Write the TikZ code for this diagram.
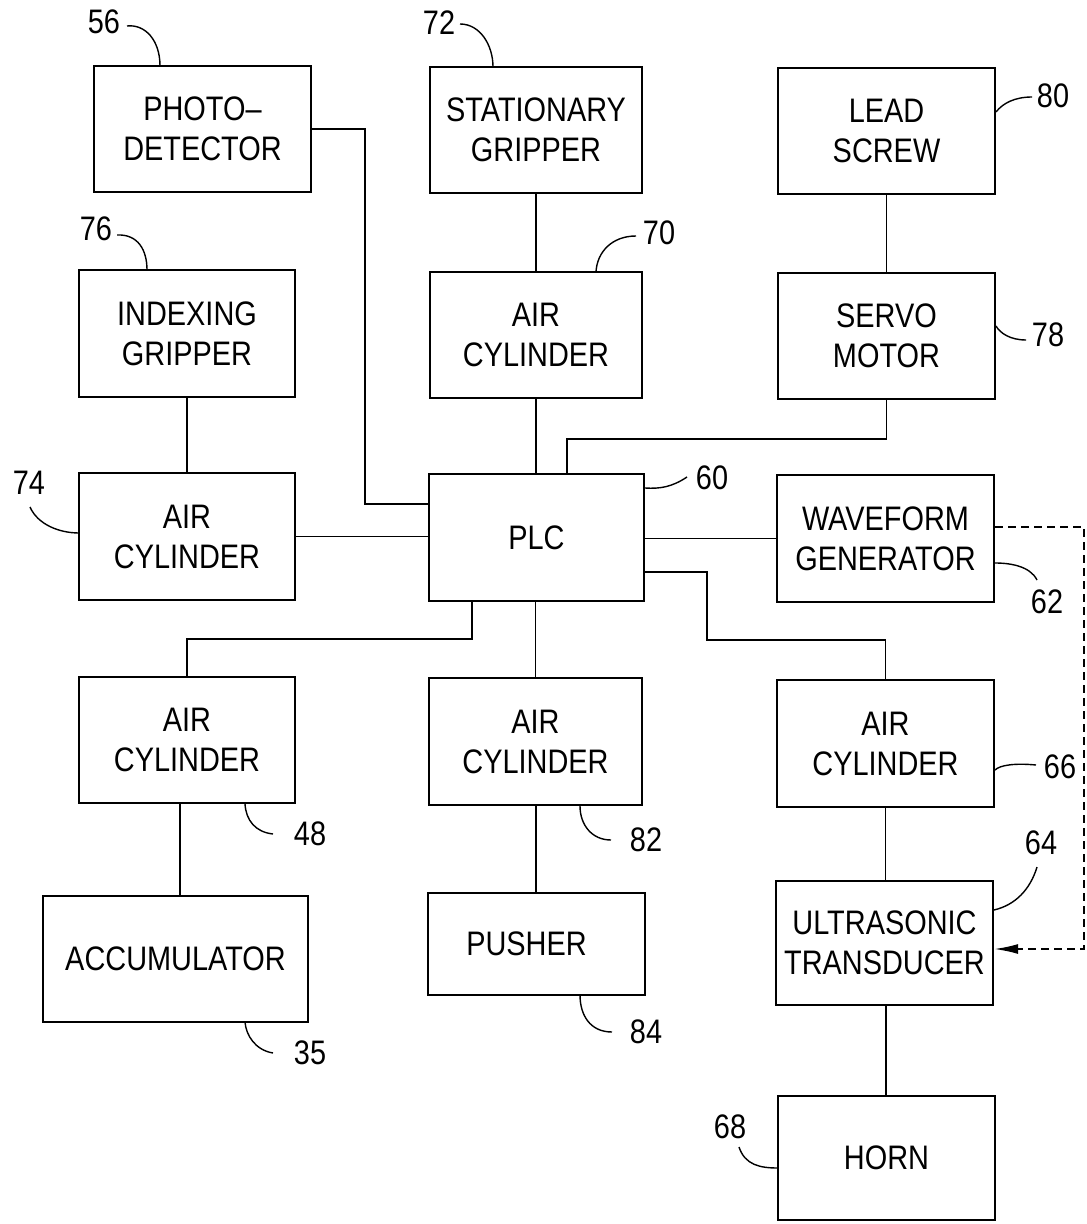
\documentclass[tikz,border=0pt]{standalone}
\usepackage{fontspec}
\setmainfont[FakeStretch=0.85]{Liberation Sans}
\usetikzlibrary{arrows.meta}
\begin{document}
\begin{tikzpicture}[x=0.5pt,y=-0.5pt,
  box/.style={draw, line width=1.2pt, align=center, inner sep=0pt,
    font=\fontsize{17pt}{20pt}\selectfont},
  conn/.style={line width=0.9pt},
  lead/.style={line width=0.7pt},
  num/.style={inner sep=0pt, font=\fontsize{17pt}{20pt}\selectfont}]
\useasboundingbox (0,0) rectangle (1086,1224);

% boxes
\node[box, minimum width=108.5pt, minimum height=63pt] (pd) at (202.5,129) {PHOTO–\\DETECTOR};
\node[box, minimum width=106pt, minimum height=63pt] (sg) at (536,130) {STATIONARY\\GRIPPER};
\node[box, minimum width=108.5pt, minimum height=63pt] (ls) at (886.5,131) {LEAD\\SCREW};
\node[box, minimum width=108pt, minimum height=63.5pt] (ig) at (187,333.5) {INDEXING\\GRIPPER};
\node[box, minimum width=106pt, minimum height=63pt] (ac70) at (536,335) {AIR\\CYLINDER};
\node[box, minimum width=108.5pt, minimum height=63pt] (sm) at (886.5,336) {SERVO\\MOTOR};
\node[box, minimum width=108pt, minimum height=63.5pt] (ac74) at (187,536.5) {AIR\\CYLINDER};
\node[box, minimum width=107.5pt, minimum height=63.5pt] (plc) at (536.5,537.5) {PLC};
\node[box, minimum width=108.5pt, minimum height=63.5pt] (wg) at (885.5,538.5) {WAVEFORM\\GENERATOR};
\node[box, minimum width=108pt, minimum height=63pt] (ac48) at (187,740) {AIR\\CYLINDER};
\node[box, minimum width=106.5pt, minimum height=63.5pt] (ac82) at (535.5,741.5) {AIR\\CYLINDER};
\node[box, minimum width=108.5pt, minimum height=63.5pt] (ac66) at (885.5,743.5) {AIR\\CYLINDER};
\node[box, minimum width=132.5pt, minimum height=63pt] (acc) at (175.5,959) {ACCUMULATOR};
\node[box, minimum width=108.5pt, minimum height=51pt] (push) at (536.5,944) {PUSHER\hspace*{10pt}};
\node[box, minimum width=108.5pt, minimum height=62pt] (ut) at (884.5,943) {ULTRASONIC\\TRANSDUCER};
\node[box, minimum width=108.5pt, minimum height=62pt] (horn) at (886.5,1158) {HORN};

% connectors
\draw[conn] (pd.east) -| (365,504) -- (plc.west |- 365,504);
\draw[conn] (sg.south) -- (ac70.north);
\draw[conn] (ac70.south) -- (plc.north -| ac70.south);
\draw[conn] (ls.south) -- (sm.north);
\draw[conn] (sm.south) |- (567,439) -- (plc.north -| 567,439);
\draw[conn] (ig.south) -- (ac74.north);
\draw[conn] (ac74.east) -- (plc.west |- ac74.east);
\draw[conn] (plc.east |- wg.west) -- (wg.west);
\draw[conn] (plc.east |- 0,572) -| (707,640) -| (ac66.north);
\draw[conn] (plc.south -| 472,0) |- (187,639) -- (ac48.north);
\draw[conn] (plc.south -| ac82.north) -- (ac82.north);
\draw[conn] (ac48.south -| 180,0) -- (acc.north -| 180,0);
\draw[conn] (ac82.south -| 536,0) -- (push.north -| 536,0);
\draw[conn] (ac66.south) -- (ut.north -| ac66.south);
\draw[conn] (ut.south -| 886,0) -- (horn.north -| 886,0);
\draw[conn, dashed, dash pattern=on 4pt off 2.5pt, -{Latex[length=12pt,width=5pt]}]
  (wg.east |- 0,527) -- (1084,527) -- (1084,949) -- (ut.east |- 0,949);

% reference numerals
\node[num] (n56) at (104,22) {56};
\node[num] (n72) at (439,23) {72};
\node[num] (n80) at (1053,96) {80};
\node[num] (n76) at (96,229) {76};
\node[num] (n70) at (659,233) {70};
\node[num] (n78) at (1048,335) {78};
\node[num] (n74) at (29,483) {74};
\node[num] (n60) at (712,478) {60};
\node[num] (n62) at (1047,602) {62};
\node[num] (n66) at (1060,767) {66};
\node[num] (n48) at (310,834) {48};
\node[num] (n82) at (646,840) {82};
\node[num] (n64) at (1041,843) {64};
\node[num] (n35) at (310,1053) {35};
\node[num] (n84) at (646,1032) {84};
\node[num] (n68) at (730,1127) {68};

% leader lines
\draw[lead] (127,26) .. controls (145,24) and (160,40) .. (160,66);
\draw[lead] (460,24) .. controls (480,24) and (493,45) .. (493,67);
\draw[lead] (1032,97) .. controls (1015,97) and (1003,103) .. (996,112);
\draw[lead] (117,235) .. controls (138,234) and (147,250) .. (147,270);
\draw[lead] (636,236) .. controls (612,236) and (597,252) .. (596,272);
\draw[lead] (1026,340) .. controls (1010,340) and (1000,333) .. (996,326);
\draw[lead] (30,507) .. controls (38,525) and (60,533) .. (79,533);
\draw[lead] (687,477) .. controls (672,487) and (660,489) .. (645,488);
\draw[lead] (1037,580) .. controls (1030,566) and (1010,563) .. (995,563);
\draw[lead] (1036,765) .. controls (1015,763) and (1000,765) .. (995,770);
\draw[lead] (273,834) .. controls (255,832) and (246,820) .. (245,804);
\draw[lead] (611,840) .. controls (592,840) and (580,825) .. (580,806);
\draw[lead] (1037,867) .. controls (1030,890) and (1015,905) .. (994,910);
\draw[lead] (273,1053) .. controls (255,1050) and (246,1035) .. (245,1022);
\draw[lead] (612,1032) .. controls (590,1032) and (580,1015) .. (580,995);
\draw[lead] (739,1147) .. controls (745,1165) and (760,1168) .. (778,1168);
\end{tikzpicture}
\end{document}
